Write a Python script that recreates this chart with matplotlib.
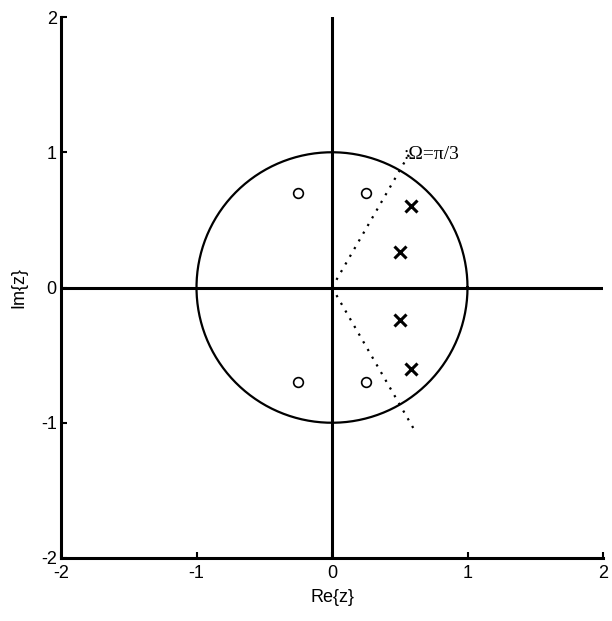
import numpy as np
import matplotlib
matplotlib.use('Agg')
import matplotlib.pyplot as plt

# zeros and poles of the filter
zeros_re = [0.25, -0.25, 0.25, -0.25]
zeros_im = [0.70, 0.70, -0.70, -0.70]
poles_re = [0.58, 0.50, 0.50, 0.58]
poles_im = [0.60, 0.26, -0.24, -0.60]

# dotted rays at +/- pi/3 from the origin
ray_angles = [np.pi / 3, -np.pi / 3]
ray_lengths = [1.15, 1.2]
ray_label = ':\u03a9=\u03c0/3'

ticks = [-2, -1, 0, 1, 2]

plt.rcParams['font.family'] = ['Liberation Sans', 'DejaVu Sans']

fig = plt.figure(figsize=(6.12, 6.21), dpi=100)
ax = fig.add_axes([61 / 612, 1 - 558 / 621, 542 / 612, 541 / 621])

# unit circle
t = np.linspace(0, 2 * np.pi, 400)
ax.plot(np.cos(t), np.sin(t), color='black', lw=1.6)

# real/imaginary axes
ax.axhline(0, color='black', lw=2.2)
ax.axvline(0, color='black', lw=2.2)

for a, r in zip(ray_angles, ray_lengths):
    ax.plot([0, r * np.cos(a)], [0, r * np.sin(a)], color='black',
            lw=1.6, linestyle=(0, (1, 3)))

ax.text(0.53, 0.985, ray_label, family=['Liberation Serif', 'DejaVu Serif'],
        fontsize=14, va='center', ha='left')

ax.plot(zeros_re, zeros_im, 'o', mfc='none', mec='black', ms=7, mew=1.2)
ax.plot(poles_re, poles_im, 'x', color='black', ms=9, mew=2.2)

ax.set_xlim(-2, 2)
ax.set_ylim(-2, 2)
ax.set_xticks(ticks)
ax.set_yticks(ticks)
ax.set_xticklabels([str(v) for v in ticks])
ax.set_yticklabels([str(v) for v in ticks])
ax.tick_params(direction='in', length=4, width=1.5, labelsize=13, pad=3)
ax.tick_params(axis='x', pad=5)

for s in ['top', 'right']:
    ax.spines[s].set_visible(False)
for s in ['left', 'bottom']:
    ax.spines[s].set_linewidth(2.2)

ax.set_xlabel('Re{z}', fontsize=13, labelpad=5)
ax.set_ylabel('Im{z}', fontsize=13, labelpad=10)

plt.savefig('out.png', dpi=100)
plt.close()
